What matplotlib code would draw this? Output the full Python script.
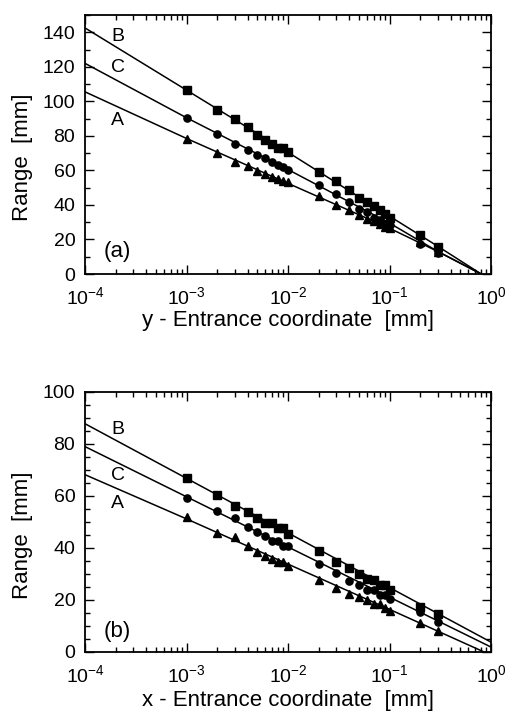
import matplotlib
matplotlib.use("Agg")
import matplotlib.pyplot as plt
from matplotlib.ticker import LogLocator, MultipleLocator, FixedLocator, NullFormatter

plt.rcParams['font.family'] = ['Liberation Sans', 'DejaVu Sans']
plt.rcParams['mathtext.fontset'] = 'custom'
plt.rcParams['mathtext.rm'] = 'Liberation Sans'
plt.rcParams['mathtext.it'] = 'Liberation Sans'

# ---- data ----
x_pts = [1e-3, 2e-3, 3e-3, 4e-3, 5e-3, 6e-3, 7e-3, 8e-3, 9e-3, 1e-2,
         2e-2, 3e-2, 4e-2, 5e-2, 6e-2, 7e-2, 8e-2, 9e-2, 0.1, 0.2, 0.3]

# panel (a): y - entrance coordinate
a_B = [106.6, 95.1, 89.5, 84.9, 80.5, 77.8, 75.3, 73.0, 73.0, 70.5,
       59.0, 53.8, 48.8, 44.2, 41.7, 39.4, 37.3, 34.6, 32.3, 22.5, 15.7]
a_C = [90.3, 81.1, 75.1, 72.0, 68.8, 66.9, 64.7, 63.2, 61.9, 60.3,
       51.3, 46.5, 41.7, 37.8, 35.9, 32.7, 31.1, 29.2, 28.2, 17.3, 12.3]
a_A = [78.4, 70.1, 65.1, 62.4, 59.9, 58.0, 56.1, 54.8, 53.6, 53.2,
       45.0, 39.8, 36.9, 34.0, 32.1, 30.5, 29.2, 27.3, 26.7, 18.6, 12.9]
a_line_x = [1e-4, 1e-3, 1e-2, 0.1, 0.3, 0.8]
a_line_B = [142.5, 106.5, 70.5, 33.5, 16.0, 0.0]
a_line_C = [122.0, 90.5, 60.5, 29.5, 13.0, 0.0]
a_line_A = [105.5, 78.5, 52.5, 26.5, 13.0, 0.0]

# panel (b): x - entrance coordinate
b_B = [66.9, 60.3, 56.2, 53.8, 51.7, 49.6, 49.6, 47.6, 47.6, 45.5,
       38.7, 34.6, 32.3, 30.1, 28.1, 27.8, 25.9, 25.7, 23.7, 17.3, 14.8]
b_C = [59.2, 54.2, 51.4, 48.1, 46.2, 44.5, 42.8, 42.6, 40.8, 40.8,
       34.0, 30.4, 27.3, 25.7, 24.0, 24.0, 21.8, 21.8, 20.3, 15.2, 11.5]
b_A = [51.9, 45.8, 44.2, 40.8, 38.5, 36.8, 35.9, 34.6, 34.6, 33.1,
       27.6, 24.8, 22.5, 21.2, 19.9, 18.6, 18.3, 17.1, 15.8, 11.2, 8.1]
b_line_x = [1e-4, 1e-3, 1e-2, 0.1, 1.0]
b_line_B = [87.8, 66.8, 45.8, 24.8, 3.8]
b_line_C = [79.0, 59.7, 40.4, 21.1, 1.9]
b_line_A = [68.2, 51.2, 33.8, 16.4, -1.2]

x_ticks = [1e-4, 1e-3, 1e-2, 1e-1, 1e0]
x_tick_labels = [r'$10^{-4}$', r'$10^{-3}$', r'$10^{-2}$', r'$10^{-1}$', r'$10^{0}$']

fig = plt.figure(figsize=(5.06, 7.13), dpi=100)
ax1 = fig.add_axes([85/506, 1-274/713, 406/506, 259/713])
ax2 = fig.add_axes([85/506, 1-652/713, 406/506, 260/713])

def style(ax, ymax, ymaj, ymin, xlabel, xlab_y, ylab_y):
    ax.set_xscale('log')
    ax.set_xlim(1e-4, 1.0)
    ax.set_ylim(0, ymax)
    ax.xaxis.set_major_locator(FixedLocator(x_ticks))
    ax.set_xticklabels(x_tick_labels)
    ax.xaxis.set_minor_locator(LogLocator(base=10, subs=range(2, 10), numticks=20))
    ax.xaxis.set_minor_formatter(NullFormatter())
    ax.yaxis.set_major_locator(MultipleLocator(ymaj))
    ax.yaxis.set_minor_locator(MultipleLocator(ymin))
    ax.tick_params(which='both', direction='in', top=True, right=True,
                   labelsize=14, width=1.0)
    ax.tick_params(axis='x', which='major', pad=9)
    ax.tick_params(axis='y', which='major', pad=7)
    ax.tick_params(which='major', length=6.5)
    ax.tick_params(which='minor', length=3.5)
    for s in ax.spines.values():
        s.set_linewidth(1.3)
    ax.set_xlabel(xlabel, fontsize=16, va='center')
    ax.xaxis.set_label_coords(0.5, xlab_y)
    ax.set_ylabel('Range  [mm]', fontsize=16, va='center')
    ax.yaxis.set_label_coords(-0.155, ylab_y)

mk = dict(color='black', linestyle='none', markersize=5.2)
ln = dict(color='black', linewidth=1.1)

# panel (a)
ax1.plot(a_line_x, a_line_B, **ln)
ax1.plot(a_line_x, a_line_C, **ln)
ax1.plot(a_line_x, a_line_A, **ln)
ax1.plot(x_pts, a_B, marker='s', **mk)
ax1.plot(x_pts, a_C, marker='o', **mk)
ax1.plot(x_pts, a_A, marker='^', **mk)
style(ax1, 150, 20, 10, 'y - Entrance coordinate  [mm]', -0.178, 0.45)
ax1.text(2.1e-4, 137.7, 'B', fontsize=14, ha='center', va='center')
ax1.text(2.1e-4, 119.5, 'C', fontsize=14, ha='center', va='center')
ax1.text(2.1e-4, 88.7, 'A', fontsize=14, ha='center', va='center')
ax1.text(2.1e-4, 13.3, '(a)', fontsize=16, ha='center', va='center')

# panel (b)
ax2.plot(b_line_x, b_line_B, **ln)
ax2.plot(b_line_x, b_line_C, **ln)
ax2.plot(b_line_x, b_line_A, **ln)
ax2.plot(x_pts, b_B, marker='s', **mk)
ax2.plot(x_pts, b_C, marker='o', **mk)
ax2.plot(x_pts, b_A, marker='^', **mk)
style(ax2, 100, 20, 5, 'x - Entrance coordinate  [mm]', -0.186, 0.449)
ax2.text(2.1e-4, 85.6, 'B', fontsize=14, ha='center', va='center')
ax2.text(2.1e-4, 68.0, 'C', fontsize=14, ha='center', va='center')
ax2.text(2.1e-4, 57.2, 'A', fontsize=14, ha='center', va='center')
ax2.text(2.1e-4, 7.8, '(b)', fontsize=16, ha='center', va='center')

fig.savefig('out.png', dpi=100)
